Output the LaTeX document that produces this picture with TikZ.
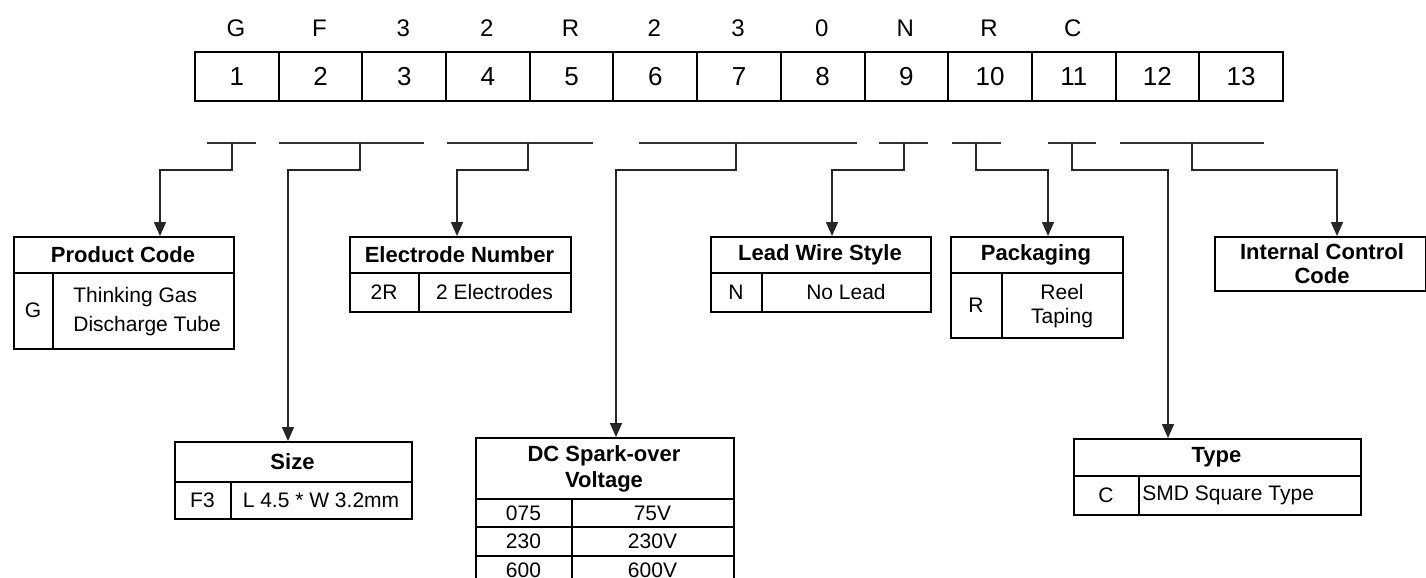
\documentclass[tikz,border=0pt]{standalone}
\usepackage{fontspec}
\setmainfont{Liberation Sans}
\usetikzlibrary{arrows.meta}
\newcommand\mkbox[5]{%
  \pgfmathsetmacro\bw{(#4-#2)*0.5}\pgfmathsetmacro\bh{(#5-#3)*0.5}%
  \node[boxst, minimum width=\bw pt, minimum height=\bh pt, anchor=north west] (#1) at (#2,#3) {};}
\begin{document}
\begin{tikzpicture}[x=0.5pt,y=-0.5pt,
  boxst/.style={draw, line width=1pt, inner sep=0pt},
  cellst/.style={draw, line width=1pt, inner sep=0pt, minimum width=41.85pt, minimum height=24.5pt, font=\fontsize{13}{15}\selectfont},
  letst/.style={inner sep=0pt, font=\fontsize{12}{14}\selectfont},
  hd/.style={inner sep=0pt, font=\fontsize{11}{13}\selectfont\bfseries, align=center},
  bd/.style={inner sep=0pt, font=\fontsize{10.5}{13}\selectfont, align=center},
  seg/.style={line width=0.8pt, draw=black!80},
  arr/.style={line width=0.8pt, draw=black!85, -{Triangle[length=7pt,width=6pt]}},
  ln/.style={line width=1pt}]
\useasboundingbox (0,0) rectangle (1426,578);
\clip (0,0) rectangle (1426,578);
% top row
\foreach \i [evaluate=\i as \xx using 194+(\i-1)*83.69] in {1,...,13}
  \node[cellst, anchor=north west] (c\i) at (\xx,51) {\i};
\foreach \l [count=\i] in {G,F,3,2,R,2,3,0,N,R,C}
  \node[letst] (l\i) at ({194+(\i-0.5)*83.69},28) {\l};
% bracket segments
\coordinate (s1a) at (207,143); \coordinate (s1b) at (256,143); \coordinate (t1) at (232,143);
\coordinate (s2a) at (279,143); \coordinate (s2b) at (424,143); \coordinate (t2) at (360,143);
\coordinate (s3a) at (447,143); \coordinate (s3b) at (593,143); \coordinate (t3) at (528,143);
\coordinate (s4a) at (639,143); \coordinate (s4b) at (857,143); \coordinate (t4) at (736,143);
\coordinate (s5a) at (879,143); \coordinate (s5b) at (928,143); \coordinate (t5) at (904,143);
\coordinate (s6a) at (952,143); \coordinate (s6b) at (1001,143); \coordinate (t6) at (976,143);
\coordinate (s7a) at (1048,143); \coordinate (s7b) at (1096,143); \coordinate (t7) at (1072,143);
\coordinate (s8a) at (1120,143); \coordinate (s8b) at (1264,143); \coordinate (t8) at (1192,143);
\foreach \k in {1,...,8} \draw[seg] (s\k a) -- (s\k b);
% boxes
\mkbox{pc}{13}{236}{233}{348}
\draw[ln] (13,273) -- (233,273) (53,273) -- (53,348);
\node[hd] (pch) at (123,254.5) {Product Code};
\node[bd] (pcg) at (33,310) {G};
\node[bd, align=left, anchor=west, font=\fontsize{10.5}{14.5}\selectfont] (pct) at (73,312) {Thinking Gas\\Discharge Tube};

\mkbox{en}{349}{236}{570}{311}
\draw[ln] (349,273) -- (570,273) (419,273) -- (419,311);
\node[hd] (enh) at (459.5,254.5) {Electrode Number};
\node[bd] (en1) at (384,292) {2R};
\node[bd] (en2) at (494.5,292) {2 Electrodes};

\mkbox{lw}{710}{236}{930}{311}
\draw[ln] (710,273) -- (930,273) (762,273) -- (762,311);
\node[hd] (lwh) at (820,254.5) {Lead Wire Style};
\node[bd] (lw1) at (736,292) {N};
\node[bd] (lw2) at (846,292) {No Lead};

\mkbox{pk}{950}{236}{1122}{337}
\draw[ln] (950,273) -- (1122,273) (1002,273) -- (1002,337);
\node[hd] (pkh) at (1036,254.5) {Packaging};
\node[bd] (pk1) at (976,305) {R};
\node[bd, font=\fontsize{10.5}{12}\selectfont] (pk2) at (1062,306) {Reel\\Taping};

\mkbox{ic}{1214}{236}{1425}{290}
\node[hd, font=\fontsize{11}{12}\selectfont\bfseries] (ich) at (1322,264) {Internal Control\\Code};

\mkbox{sz}{174}{441}{411}{518}
\draw[ln] (174,482) -- (411,482) (231,482) -- (231,518);
\node[hd] (szh) at (292.5,461.5) {Size};
\node[bd] (sz1) at (202.5,500) {F3};
\node[bd] (sz2) at (321,500) {L 4.5 * W 3.2mm};

\mkbox{dc}{475}{437}{733}{586}
\draw[ln] (475,499) -- (733,499) (475,527) -- (733,527) (475,556) -- (733,556) (572,499) -- (572,586);
\node[hd] (dch) at (604,469) {DC Spark-over\\Voltage};
\node[bd] (dc1) at (523.5,513) {075};
\node[bd] (dc2) at (652.5,513) {75V};
\node[bd] (dc3) at (523.5,541.5) {230};
\node[bd] (dc4) at (652.5,541.5) {230V};
\node[bd] (dc5) at (523.5,570) {600};
\node[bd] (dc6) at (652.5,570) {600V};

\mkbox{ty}{1073}{438}{1360}{514}
\draw[ln] (1073,476) -- (1360,476) (1139,476) -- (1139,514);
\node[hd] (tyh) at (1216.5,457) {Type};
\node[bd] (ty1) at (1106,495) {C};
\node[bd, anchor=west] (ty2) at (1142,495) {SMD Square Type};

% arrow targets
\coordinate (pcin) at (pc.north -| 160,0);
\coordinate (szin) at (sz.north -| 288,0);
\coordinate (enin) at (en.north -| 457,0);
\coordinate (dcin) at (dc.north -| 616,0);
\coordinate (lwin) at (lw.north -| 832,0);
\coordinate (pkin) at (pk.north -| 1048,0);
\coordinate (tyin) at (ty.north -| 1168,0);
\coordinate (icin) at (ic.north -| 1337,0);
% connectors
\draw[arr] (t1) -- ++(0,27) -| (pcin);
\draw[arr] (t2) -- ++(0,27) -| (szin);
\draw[arr] (t3) -- ++(0,27) -| (enin);
\draw[arr] (t4) -- ++(0,27) -| (dcin);
\draw[arr] (t5) -- ++(0,27) -| (lwin);
\draw[arr] (t6) -- ++(0,27) -| (pkin);
\draw[arr] (t7) -- ++(0,27) -| (tyin);
\draw[arr] (t8) -- ++(0,27) -| (icin);
\end{tikzpicture}
\end{document}
